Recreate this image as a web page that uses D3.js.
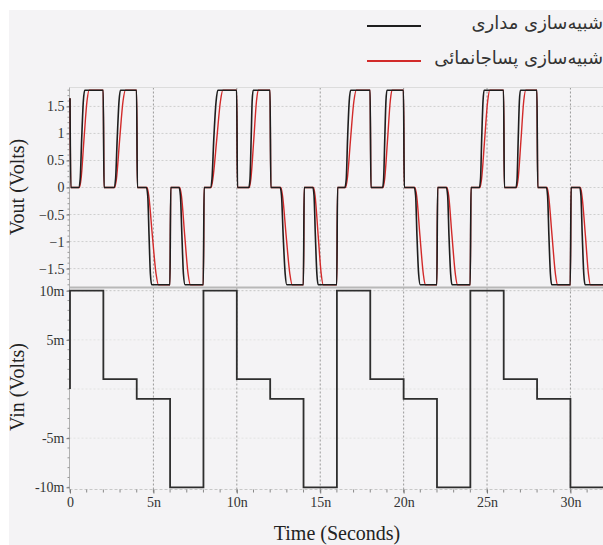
<!DOCTYPE html>
<html><head><meta charset="utf-8">
<script src="https://cdn.jsdelivr.net/npm/d3@7"></script>
<style>html,body{margin:0;padding:0;background:#fff;}svg{display:block;}
.tick text{font-family:'Liberation Serif','Times New Roman',serif;}</style>
</head><body>
<svg id="chart" width="603" height="545"></svg>
<script>
// ---------- data ----------
const legendLabels = ["شبیه‌سازی مداری", "شبیه‌سازی پساجانمائی"];
const xTicks = [0, 5, 10, 15, 20, 25, 30];               // ns
const voutTicks = [1.5, 1, 0.5, 0, -0.5, -1, -1.5];      // V
const vinTickLabels = ["10m", "5m", "-5m", "-10m"];
const vinTickValues = [10, 5, -5, -10];                  // mV

// Vin (mV), step-after
const vinTime  = [0, 0, 2, 4, 6, 8, 10, 12, 14, 16, 18, 20, 22, 24, 26, 28, 30, 32];
const vinValue = [0, 10, 1, -1, -10, 10, 1, -1, -10, 10, 1, -1, -10, 10, 1, -1, -10, -10];

// Vout circuit simulation (black) [ns, V]
const voutCircuit = [
 [0,1.65],[0.05,0],
 [0.52,0],[0.61,0.15],[0.7,0.9],[0.8,1.6],[0.88,1.8],[1.99,1.8],[2.04,0],
 [2.64,0],[2.73,0.15],[2.83,0.9],[2.94,1.6],[3.02,1.8],[3.99,1.8],[4.04,0],
 [4.58,0],[4.66,-0.15],[4.74,-0.9],[4.82,-1.6],[4.9,-1.8],[5.99,-1.8],[6.04,0],
 [6.54,0],[6.62,-0.15],[6.71,-0.9],[6.8,-1.6],[6.9,-1.8],[7.99,-1.8],[8.04,0],
 [8.42,0],[8.51,0.15],[8.62,0.9],[8.76,1.6],[8.86,1.8],[9.99,1.8],[10.04,0],
 [10.72,0],[10.79,0.15],[10.86,0.9],[10.92,1.6],[10.98,1.8],[11.99,1.8],[12.04,0],
 [12.6,0],[12.68,-0.15],[12.78,-0.9],[12.9,-1.6],[13.0,-1.8],[13.99,-1.8],[14.04,0],
 [14.56,0],[14.63,-0.15],[14.71,-0.9],[14.8,-1.6],[14.88,-1.8],[15.99,-1.8],[16.04,0],
 [16.48,0],[16.56,0.15],[16.64,0.9],[16.74,1.6],[16.82,1.8],[17.99,1.8],[18.04,0],
 [18.74,0],[18.8,0.15],[18.87,0.9],[18.94,1.6],[19.0,1.8],[19.99,1.8],[20.04,0],
 [20.64,0],[20.72,-0.15],[20.8,-0.9],[20.9,-1.6],[21.0,-1.8],[21.99,-1.8],[22.04,0],
 [22.56,0],[22.64,-0.15],[22.72,-0.9],[22.82,-1.6],[22.9,-1.8],[23.99,-1.8],[24.04,0],
 [24.54,0],[24.61,0.15],[24.68,0.9],[24.76,1.6],[24.82,1.8],[25.99,1.8],[26.04,0],
 [26.74,0],[26.8,0.15],[26.87,0.9],[26.94,1.6],[27.0,1.8],[27.99,1.8],[28.04,0],
 [28.56,0],[28.63,-0.15],[28.71,-0.9],[28.8,-1.6],[28.88,-1.8],[29.99,-1.8],[30.04,0],
 [30.56,0],[30.63,-0.15],[30.71,-0.9],[30.8,-1.6],[30.88,-1.8],[32,-1.8]
];

// Vout post-layout simulation (red) [ns, V]
const voutPostLayout = [
 [0,1.65],[0.05,0],
 [0.56,0],[0.66,0.15],[0.84,0.9],[1.02,1.6],[1.14,1.8],[1.99,1.8],[2.04,0],
 [2.68,0],[2.78,0.15],[2.98,0.9],[3.18,1.6],[3.32,1.8],[3.99,1.8],[4.04,0],
 [4.62,0],[4.72,-0.15],[4.94,-0.9],[5.16,-1.6],[5.3,-1.8],[5.99,-1.8],[6.04,0],
 [6.58,0],[6.68,-0.15],[6.88,-0.9],[7.08,-1.6],[7.22,-1.8],[7.99,-1.8],[8.04,0],
 [8.46,0],[8.56,0.15],[8.8,0.9],[9.02,1.6],[9.16,1.8],[9.99,1.8],[10.04,0],
 [10.75,0],[10.84,0.15],[11.02,0.9],[11.18,1.6],[11.28,1.8],[11.99,1.8],[12.04,0],
 [12.64,0],[12.74,-0.15],[12.96,-0.9],[13.18,-1.6],[13.32,-1.8],[13.99,-1.8],[14.04,0],
 [14.6,0],[14.69,-0.15],[14.88,-0.9],[15.06,-1.6],[15.18,-1.8],[15.99,-1.8],[16.04,0],
 [16.52,0],[16.62,0.15],[16.82,0.9],[17.02,1.6],[17.16,1.8],[17.99,1.8],[18.04,0],
 [18.77,0],[18.86,0.15],[19.04,0.9],[19.2,1.6],[19.3,1.8],[19.99,1.8],[20.04,0],
 [20.68,0],[20.78,-0.15],[20.98,-0.9],[21.18,-1.6],[21.3,-1.8],[21.99,-1.8],[22.04,0],
 [22.6,0],[22.7,-0.15],[22.9,-0.9],[23.1,-1.6],[23.22,-1.8],[23.99,-1.8],[24.04,0],
 [24.58,0],[24.67,0.15],[24.86,0.9],[25.04,1.6],[25.16,1.8],[25.99,1.8],[26.04,0],
 [26.77,0],[26.86,0.15],[27.04,0.9],[27.2,1.6],[27.32,1.8],[27.99,1.8],[28.04,0],
 [28.6,0],[28.69,-0.15],[28.9,-0.9],[29.1,-1.6],[29.22,-1.8],[29.99,-1.8],[30.04,0],
 [30.6,0],[30.69,-0.15],[30.9,-0.9],[31.08,-1.6],[31.2,-1.8],[32,-1.8]
];

// ---------- drawing ----------
const svg = d3.select("#chart");
const serif = "'Liberation Serif','Times New Roman',serif";
const L = 69.5, R = 604, T1 = 87.5, B1 = 287.5, B2 = 489.5;

svg.append("rect").attr("x", 9).attr("y", 10).attr("width", 600).attr("height", 540).attr("fill", "#f4f3f5");

const x = d3.scaleLinear().domain([0, 32]).range([70, 603.8]);
const y1 = d3.scaleLinear().domain([-1.85, 1.85]).range([B1, T1]);
const y2 = d3.scaleLinear().domain([-10, 10]).range([487.3, 290.7]);

// horizontal gridlines
svg.append("g").selectAll("line").data(voutTicks).join("line")
  .attr("x1", L).attr("x2", R).attr("y1", d => y1(d)).attr("y2", d => y1(d))
  .attr("stroke", "#cfcfcf").attr("stroke-width", 1).attr("stroke-dasharray", "2,2");
svg.append("g").selectAll("line").data([10, 5, 0, -5]).join("line")
  .attr("x1", L).attr("x2", R).attr("y1", d => y2(d)).attr("y2", d => y2(d))
  .attr("stroke", d => d === 10 ? "#c4c4c4" : "#e2e2e2").attr("stroke-width", 1).attr("stroke-dasharray", "2,2");

// vertical gridlines
svg.append("g").selectAll("line").data(xTicks.filter(d => d > 0)).join("line")
  .attr("x1", d => x(d)).attr("x2", d => x(d)).attr("y1", T1).attr("y2", B2)
  .attr("stroke", "#9a9a9a").attr("stroke-width", 1).attr("stroke-dasharray", "2,2");

// frame lines
svg.append("line").attr("x1", L).attr("x2", R).attr("y1", T1).attr("y2", T1).attr("stroke", "#dcdcdc");
svg.append("line").attr("x1", L).attr("x2", R).attr("y1", B1).attr("y2", B1).attr("stroke", "#b8b8b8").attr("stroke-width", 2);
svg.append("line").attr("x1", L).attr("x2", R).attr("y1", B2).attr("y2", B2).attr("stroke", "#c8c8c8").attr("stroke-dasharray", "3,2");
svg.append("line").attr("x1", L).attr("x2", L).attr("y1", T1).attr("y2", B2).attr("stroke", "#b0b0b0");

// minor ticks
svg.append("g").selectAll("line").data(d3.range(-18, 19).map(d => d / 10)).join("line")
  .attr("x1", L - 2).attr("x2", L).attr("y1", d => y1(d)).attr("y2", d => y1(d)).attr("stroke", "#999");
svg.append("g").selectAll("line").data(d3.range(-10, 11)).join("line")
  .attr("x1", L - 2).attr("x2", L).attr("y1", d => y2(d)).attr("y2", d => y2(d)).attr("stroke", "#999");
svg.append("g").selectAll("line").data(d3.range(0, 33)).join("line")
  .attr("x1", d => x(d)).attr("x2", d => x(d)).attr("y1", B2).attr("y2", B2 + 3).attr("stroke", "#888");

// axes
const ax1 = svg.append("g").attr("transform", `translate(${L},0)`)
  .call(d3.axisLeft(y1).tickValues(voutTicks).tickFormat(d => d3.format("")(d)).tickSize(3).tickPadding(2));
const ax2 = svg.append("g").attr("transform", `translate(${L},0)`)
  .call(d3.axisLeft(y2).tickValues(vinTickValues).tickFormat((d, i) => vinTickLabels[i]).tickSize(3).tickPadding(2));
const ax3 = svg.append("g").attr("transform", `translate(0,${B2})`)
  .call(d3.axisBottom(x).tickValues(xTicks).tickFormat(d => d === 0 ? "0" : d + "n").tickSize(4).tickPadding(4));
[ax1, ax2, ax3].forEach(a => {
  a.attr("font-family", serif).attr("font-size", 14);
  a.select(".domain").remove();
  a.selectAll(".tick line").attr("stroke", "#777");
  a.selectAll("text").attr("font-family", serif).attr("font-size", 14).attr("fill", "#333");
});

// lines
const vline = d3.line().x(d => x(d[0])).y(d => y1(d[1])).curve(d3.curveMonotoneX);
svg.append("path").datum(voutPostLayout).attr("d", vline)
  .attr("fill", "none").attr("stroke", "#d22a2a").attr("stroke-width", 1.4);
svg.append("path").datum(voutCircuit).attr("d", vline)
  .attr("fill", "none").attr("stroke", "#1e1e1e").attr("stroke-width", 1.6);

const vinData = vinTime.map((t, i) => [t, vinValue[i]]);
svg.append("path").datum(vinData)
  .attr("d", d3.line().x(d => x(d[0])).y(d => y2(d[1])).curve(d3.curveStepAfter))
  .attr("fill", "none").attr("stroke", "#2e2e2e").attr("stroke-width", 1.8);

// axis titles
svg.append("text").attr("transform", "translate(24,187) rotate(-90)").attr("text-anchor", "middle")
  .attr("font-family", serif).attr("font-size", 20).attr("fill", "#222").text("Vout (Volts)");
svg.append("text").attr("transform", "translate(24,387) rotate(-90)").attr("text-anchor", "middle")
  .attr("font-family", serif).attr("font-size", 20).attr("fill", "#222").text("Vin (Volts)");
svg.append("text").attr("x", 337).attr("y", 540).attr("text-anchor", "middle")
  .attr("font-family", serif).attr("font-size", 20).attr("fill", "#222").text("Time (Seconds)");

// legend
const legendColors = ["#1e1e1e", "#d22a2a"];
const legendY = [26, 61];
legendLabels.forEach((lab, i) => {
  svg.append("line").attr("x1", 367).attr("x2", 421).attr("y1", legendY[i]).attr("y2", legendY[i])
    .attr("stroke", legendColors[i]).attr("stroke-width", 2);
  svg.append("text").attr("x", 603).attr("y", legendY[i] + 3)
    .attr("direction", "rtl").attr("text-anchor", "start")
    .attr("font-family", "'DejaVu Sans',sans-serif").attr("font-size", 18).attr("fill", "#333").text(lab);
});
</script>
</body></html>
